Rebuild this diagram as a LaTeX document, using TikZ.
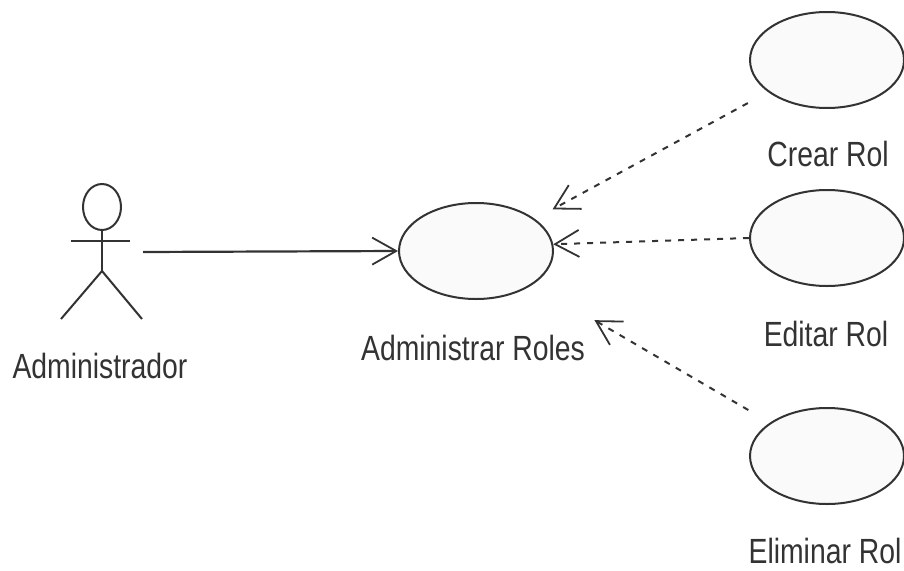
\documentclass[tikz,border=0pt]{standalone}
\usepackage{fontspec}
\setmainfont{Liberation Sans}
\newfontfamily\umlfont[FakeStretch=0.81]{Liberation Sans}
\usetikzlibrary{positioning}
\usetikzlibrary{arrows.meta}
\usetikzlibrary{shapes.geometric}
\definecolor{umlink}{gray}{0.2}
\tikzset{
    usecase/.style={draw=umlink,ellipse,line width=2pt,fill=black!2,inner sep=0pt,minimum width=154pt,minimum height=96pt},
    lbl/.style={text=umlink,font=\umlfont\fontsize{35}{40}\selectfont,inner sep=0pt},
    opentip/.style={-{Straight Barb[length=24pt,width=27pt,line width=1.8pt]}},
    inc/.style={umlink,line width=2pt,dash pattern=on 6pt off 7pt,opentip},
    stick/.style={umlink,line width=2pt},
}
\begin{document}
\begin{tikzpicture}[x=1pt,y=-1pt]
            \useasboundingbox (0,0) rectangle (904,570);
            \node[usecase] (admin) at (476,251) {};
            \node[usecase] (crear) at (827,60) {};
            \node[usecase] (editar) at (827,238) {};
            \node[usecase] (eliminar) at (827,456) {};
            \node[lbl] (ladmin) at (473,348) {Administrar Roles};
            \node[lbl] (lcrear) at (828,154) {Crear Rol};
            \node[lbl] (leditar) at (826,334) {Editar Rol};
            \node[lbl] (leliminar) at (825,551) {Eliminar Rol};
            % actor
            \node[draw=umlink,ellipse,line width=2pt,inner sep=0pt,minimum width=38pt,minimum height=46pt] (head) at (102,207) {};
            \draw[stick] (head.south) -- (102,271) coordinate (hip);
            \draw[stick] (71,241) coordinate (armL) -- (130,241) coordinate (armR);
            \draw[stick] (61,319) coordinate (footL) -- (hip) -- (142,319) coordinate (footR);
            \node[lbl] (lactor) at (100,366) {Administrador};
            \coordinate (hand) at (143,252);
            % connectors
            \draw[umlink,line width=2.2pt,opentip] (hand) -- (admin.west);
            \draw[inc,shorten <=23pt,shorten >=20pt] (crear) -- (admin);
            \draw[inc] (editar.west) -- (admin.5);
            \draw[inc,shorten <=25pt,shorten >=71pt] (eliminar) -- (admin);
        \end{tikzpicture}
\end{document}
